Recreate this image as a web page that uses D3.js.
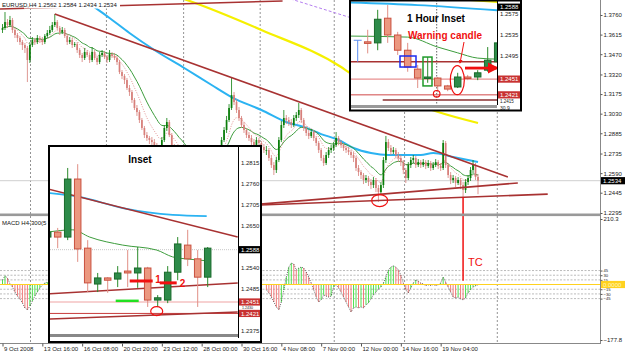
<!DOCTYPE html>
<html>
<head>
<meta charset="utf-8">
<script src="https://cdn.jsdelivr.net/npm/d3@7"></script>
<style>
  body { margin: 0; background: #fff; }
  svg text { font-family: "Liberation Sans", Arial, sans-serif; }
</style>
</head>
<body>
<div id="chart"></div>
<script>
// ---- main EURUSD H4 series (prices in pips, 1.3760 -> 13760) ----
const firstOpen = 13649;
const closePips = [13664,13708,13686,13723,13649,13612,13590,13560,13538,13516,
  13427,13538,13575,13560,13590,13575,13560,13605,13627,13649,
  13686,13708,13664,13634,13649,13605,13560,13575,13538,13545,
  13501,13464,13442,13486,13464,13427,13486,13442,13412,13464,
  13479,13449,13427,13471,13457,13442,13412,13338,13309,13279,
  13220,13190,13131,13072,13042,12983,12924,12872,12850,12835,
  12820,12798,12776,12761,12835,12924,12968,12872,12798,12761,
  12724,12687,12702,12650,12613,12628,12598,12650,12687,12628,
  12613,12650,12687,12672,12724,12761,12761,12776,12835,12909,
  12983,13072,13168,13116,13057,12998,12946,12909,12872,12850,
  12820,12798,12835,12813,12783,12761,12761,12702,12650,12613,
  12687,12835,12946,12998,12983,12968,12946,12998,13020,13057,
  12983,12924,12887,12865,12894,12850,12813,12761,12702,12665,
  12724,12761,12776,12798,12850,12820,12798,12776,12761,12746,
  12724,12702,12628,12598,12576,12539,12554,12524,12502,12539,
  12480,12450,12502,12687,12820,12776,12746,12761,12724,12702,
  12672,12613,12554,12650,12687,12702,12650,12672,12650,12672,
  12643,12665,12628,12650,12672,12643,12628,12813,12650,12576,
  12539,12554,12517,12539,12502,12465,12524,12554,12613,12650,
  12562,12534];
const highPips = [13693,13782,13730,13753,13738,13664,13627,13605,13575,13553,
  13531,13560,13597,13590,13612,13605,13597,13619,13649,13679,
  13708,13767,13723,13679,13671,13664,13619,13597,13590,13560,
  13560,13516,13479,13516,13501,13479,13523,13501,13457,13486,
  13501,13494,13464,13501,13486,13479,13457,13427,13353,13323,
  13294,13242,13205,13146,13094,13057,12998,12939,12894,12865,
  12857,12842,12813,12791,12857,12946,12998,12983,12887,12805,
  12776,12739,12724,12717,12672,12650,12643,12672,12709,12702,
  12650,12672,12709,12709,12746,12783,12783,12791,12857,12931,
  13013,13101,13294,13190,13138,13079,13013,12968,12924,12894,
  12872,12842,12857,12850,12828,12805,12791,12776,12724,12672,
  12709,12857,12976,13057,13020,13005,12990,13020,13042,13109,
  13072,12998,12939,12909,12916,12909,12865,12828,12776,12724,
  12746,12783,12798,12820,12894,12865,12835,12813,12791,12783,
  12761,12746,12717,12650,12613,12591,12576,12569,12546,12561,
  12554,12502,12524,12709,12865,12842,12798,12783,12776,12746,
  12724,12687,12628,12672,12709,12724,12717,12694,12687,12694,
  12687,12687,12680,12672,12694,12687,12665,12835,12828,12665,
  12598,12576,12569,12561,12554,12524,12546,12576,12635,12687,
  12665,12584];
const lowPips = [13627,13649,13664,13671,13627,13590,13560,13538,13501,13479,
  13264,13405,13523,13538,13545,13553,13538,13545,13590,13612,
  13634,13671,13649,13612,13619,13590,13538,13545,13516,13523,
  13479,13442,13412,13427,13449,13405,13412,13427,13390,13397,
  13449,13434,13405,13412,13442,13427,13390,13323,13286,13249,
  13205,13161,13109,13057,13013,12961,12909,12850,12828,12805,
  12791,12776,12746,12731,12746,12820,12902,12857,12776,12731,
  12702,12665,12665,12628,12583,12591,12569,12583,12635,12606,
  12583,12598,12635,12650,12657,12709,12731,12739,12761,12820,
  12887,12968,13057,13094,13035,12976,12924,12887,12850,12828,
  12798,12776,12783,12791,12761,12739,12724,12680,12628,12576,
  12591,12672,12820,12924,12953,12939,12924,12931,12976,12998,
  12961,12902,12865,12842,12850,12828,12791,12739,12680,12643,
  12650,12702,12739,12754,12783,12798,12776,12754,12739,12724,
  12702,12672,12606,12569,12546,12509,12517,12495,12472,12480,
  12450,12376,12428,12480,12665,12754,12724,12731,12702,12672,
  12643,12583,12517,12539,12628,12665,12628,12635,12628,12635,
  12620,12628,12606,12613,12635,12620,12606,12613,12628,12554,
  12509,12517,12487,12502,12472,12413,12443,12502,12532,12591,
  12539,12434];

// MACD histogram (visible parts only)
const macdLeftStart = 0;
const macdLeft = [15,28,21,2,-8,-24,-37,-46,-59,-75,-81,-69,-53,-37,-24,-11,-1,5,8];
const macdRightStart = 106;
const macdRight = [-17,-27,-40,-56,-72,-81,-56,-17,24,56,
  69,66,47,53,56,53,40,24,5,-17,
  -40,-56,-49,-33,-37,-40,-37,-8,-1,-11,
  -24,-40,-56,-72,-88,-75,-72,-75,-72,-75,
  -65,-59,-46,-33,-24,-14,-8,5,24,47,
  56,60,56,47,31,5,-17,-27,-11,5,
  15,11,5,2,-3,-1,-3,0,-3,-1,
  5,24,8,-8,-24,-40,-43,-40,-46,-49,
  -43,-27,-17,-8,-4,-1];
const macdLevels = [45, 30, 15, -15, -30, -45];

// long moving averages: [bar, price]
const blueMA = [[29,1.3930],[33,1.3871],[43,1.3738],[51,1.3627],[61,1.3501],[73,1.3368],[84,1.3242],
  [92,1.3153],[104,1.3057],[115,1.2961],[121,1.2931],[128,1.2879],[135,1.2835],[141,1.2776],
  [148,1.2739],[155,1.2724],[168,1.2724],[173,1.2739],[181,1.2709],[191,1.2672]];
const yellowMA = [[68,1.3908],[74,1.3871],[104,1.3649],[136,1.3375],[139,1.3338],[175,1.3042],[191,1.2961]];
const purpleMA = [[108,1.3923],[139,1.3745],[146,1.3700]];

// trend lines: [bar, price]
const trendTop = [[-1,1.3804],[112.5,1.3864]];
const trendDown = [[21,1.3767],[203,1.2561]];
const supportA = [[96,1.2349],[207,1.2517]];
const supportB = [[96,1.2349],[219,1.2435]];

const priceTicks = [1.3760,1.3615,1.3470,1.3320,1.3175,1.3030,1.2885,1.2735,1.2590,1.2445,1.2295];
const lastPrice = 1.2534;
const timeTicks = [0,16,32,48,64,80,96,112,128,144,160,176];
const timeLabels = ["9 Oct 2008","13 Oct 16:00","16 Oct 08:00","20 Oct 20:00","23 Oct 12:00","28 Oct 00:00",
  "30 Oct 16:00","4 Nov 08:00","7 Nov 00:00","12 Nov 00:00","14 Nov 16:00","19 Nov 04:00"];
const gridBars = [11.25, 41.75, 72.75, 103.5, 133.25, 161.5, 198.75];
const circleMain = [151.5, 1.2387];
const tcBar = 185;

// ---- inset A (H4 zoom) ----
const insetAOpen  = [1.2621,1.2634,1.2621,1.2773,1.2592,1.2498,1.2514,1.2511,1.2532,1.2527,1.2540,1.2456,1.2456,1.2529,1.2600,1.2564,1.2516];
const insetAHigh  = [1.2640,1.2645,1.2802,1.2812,1.2613,1.2527,1.2516,1.2545,1.2587,1.2595,1.2543,1.2469,1.2545,1.2621,1.2640,1.2587,1.2595];
const insetALow   = [1.2616,1.2592,1.2613,1.2556,1.2477,1.2477,1.2475,1.2490,1.2490,1.2488,1.2438,1.2438,1.2448,1.2508,1.2545,1.2438,1.2490];
const insetAClose = [1.2634,1.2621,1.2773,1.2590,1.2501,1.2514,1.2508,1.2527,1.2527,1.2540,1.2456,1.2462,1.2529,1.2603,1.2564,1.2516,1.2592];
const insetABlue  = [[0.2,1.2736],[3.2,1.2726],[7.5,1.2697],[12.5,1.2679],[15.9,1.2676]];
const insetAGreen = [[0,1.2634],[2.5,1.2640],[4.2,1.2621],[7.5,1.2600],[10.9,1.2587],[12.5,1.2569],[14.2,1.2563],[15.9,1.2559]];
const insetATrend = [[0,1.2747],[19,1.2621]];
const insetARiseA = [[0,1.2472],[19,1.2501]];
const insetARiseB = [[0,1.2406],[19,1.2425]];
const insetATicks = [1.2815,1.2760,1.2705,1.2650,1.2540,1.2485,1.2375];
const insetAHidden = 1.2430;

// ---- inset B (1 hour) ----
const insetBOpen  = [1.2522,1.2520,1.2567,1.2535,1.2506,1.2470,1.2453,1.2453,1.2438,1.2436,1.2455,1.2455,1.2468,1.2484];
const insetBHigh  = [1.2545,1.2583,1.2592,1.2541,1.2520,1.2478,1.2493,1.2455,1.2440,1.2463,1.2459,1.2468,1.2512,1.2539];
const insetBLow   = [1.2500,1.2506,1.2520,1.2497,1.2465,1.2434,1.2444,1.2426,1.2428,1.2434,1.2449,1.2449,1.2465,1.2482];
const insetBClose = [1.2519,1.2565,1.2535,1.2506,1.2474,1.2453,1.2455,1.2438,1.2432,1.2455,1.2453,1.2463,1.2487,1.2520];
const insetBMarker = [1.2525, 1.2484];
const insetBBlue  = [[-1,1.2597],[6,1.2592],[14,1.2582]];
const insetBYellow = [[11,1.2602],[14,1.2598]];
const insetBGreen = [[-1,1.2533],[5,1.2531],[8,1.2512],[10,1.2501],[12,1.2491],[14,1.2489]];
const insetBTicks = [1.2575,1.2535,1.2495];
const insetBHidden = 1.2415;

const brown = "#a83232";
const W = 625, H = 356;

const svg = d3.select("#chart").append("svg")
  .attr("width", W).attr("height", H)
  .style("display", "block");
svg.append("rect").attr("width", W).attr("height", H).attr("fill", "#fff");

const x = d3.scaleLinear().domain([0, 240]).range([2.5, 600]);
const y = d3.scaleLinear().domain([1.2295, 1.3760]).range([213, 15]);
const yM = d3.scaleLinear().domain([-177.8, 210.3]).range([340, 219]);

const defs = svg.append("defs");
function clip(id, x0, y0, w, h) {
  defs.append("clipPath").attr("id", id).append("rect")
    .attr("x", x0).attr("y", y0).attr("width", w).attr("height", h);
  return "url(#" + id + ")";
}

function ema(vals, n) {
  const a = 2 / (n + 1);
  let e = vals[0];
  return vals.map(v => (e = e + a * (v - e)));
}

function drawCandles(g, data, xs, ys, bw, st) {
  const sel = g.selectAll(null).data(data).join("g");
  sel.append("line")
    .attr("x1", d => xs(d.k)).attr("x2", d => xs(d.k))
    .attr("y1", d => ys(d.h)).attr("y2", d => ys(d.l))
    .attr("stroke", d => d.c >= d.o ? st.bullWick : st.bearWick)
    .attr("stroke-width", st.wick);
  sel.append("rect")
    .attr("x", d => xs(d.k) - bw / 2)
    .attr("y", d => ys(Math.max(d.o, d.c)))
    .attr("width", bw)
    .attr("height", d => Math.max(st.minH, Math.abs(ys(d.o) - ys(d.c))))
    .attr("fill", d => d.c >= d.o ? st.bullFill : st.bearFill)
    .attr("stroke", d => st.stroke ? (d.c >= d.o ? st.bullStroke : st.bearStroke) : "none")
    .attr("stroke-width", st.stroke || 0);
}

function pathLine(g, pts, xs, ys, color, width, dash, curve) {
  g.append("path")
    .datum(pts)
    .attr("d", d3.line().x(d => xs(d[0])).y(d => ys(d[1])).curve(curve || d3.curveLinear))
    .attr("fill", "none").attr("stroke", color).attr("stroke-width", width)
    .attr("stroke-dasharray", dash || null);
}

function labelBox(g, x0, w, yy, txt, bg, fg) {
  g.append("rect").attr("x", x0).attr("y", yy - 3.6).attr("width", w).attr("height", 7.2).attr("fill", bg);
  g.append("text").attr("x", x0 + 2).attr("y", yy).attr("dy", "0.35em")
    .attr("font-size", 6).attr("fill", fg).text(txt);
}

// ---------- main chart ----------
const bars = closePips.map((c, i) => {
  const o = (i ? closePips[i - 1] : firstOpen) / 1e4;
  const cc = c / 1e4;
  return { k: i, o: o, c: cc, h: Math.max(highPips[i] / 1e4, o, cc), l: Math.min(lowPips[i] / 1e4, o, cc) };
});

// vertical grid
svg.append("g").selectAll("line").data(gridBars).join("line")
  .attr("x1", d => x(d)).attr("x2", d => x(d))
  .attr("y1", 0).attr("y2", 343)
  .attr("stroke", "#777").attr("stroke-width", 0.8).attr("stroke-dasharray", "2,2");

// MACD panel
const macdG = svg.append("g").attr("clip-path", clip("cm", 0, 217, 600, 126));
macdG.selectAll("line.lvl").data(macdLevels).join("line").attr("class", "lvl")
  .attr("x1", 0).attr("x2", 600).attr("y1", d => yM(d)).attr("y2", d => yM(d))
  .attr("stroke", "#aaa").attr("stroke-width", 0.8).attr("stroke-dasharray", "2,1.5");

function macdSeries(vals, start) {
  const pts = vals.map((v, j) => ({ k: start + j, v: v, up: j === 0 ? v >= 0 : v >= vals[j - 1] }));
  macdG.append("g").selectAll("line").data(pts).join("line")
    .attr("x1", d => x(d.k)).attr("x2", d => x(d.k))
    .attr("y1", yM(0)).attr("y2", d => yM(d.v))
    .attr("stroke", d => d.up ? "#4fe04f" : "#f07a7a").attr("stroke-width", 1);
  macdG.append("path").datum(pts)
    .attr("d", d3.line().x(d => x(d.k)).y(d => yM(d.v)))
    .attr("fill", "none").attr("stroke", "#444").attr("stroke-width", 0.8)
    .attr("stroke-dasharray", "1,1.2");
}
macdSeries(macdLeft, macdLeftStart);
macdSeries(macdRight, macdRightStart);
const zeroY = Math.floor(yM(0)) + 0.5;
macdG.append("line").attr("x1", 0).attr("x2", 600).attr("y1", zeroY).attr("y2", zeroY)
  .attr("stroke", "#ffd21f").attr("stroke-width", 1);

// price panel
const mainG = svg.append("g").attr("clip-path", clip("cp", 0, 0, 600, 213));
mainG.append("line").attr("x1", 0).attr("x2", 600).attr("y1", y(lastPrice)).attr("y2", y(lastPrice))
  .attr("stroke", "#cfcfcf").attr("stroke-width", 1);

pathLine(mainG, yellowMA, x, y, "#f5f000", 2.2, null, d3.curveMonotoneX);
pathLine(mainG, purpleMA, x, y, "#b57ff0", 1, "3,2");
pathLine(mainG, blueMA, x, y, "#2bb3f2", 2, null, d3.curveMonotoneX);

const closes = bars.map(b => b.c);
const greenMA = ema(closes, 15);
const fastMA = ema(closes, 8);
mainG.append("path").datum(greenMA)
  .attr("d", d3.line().x((d, i) => x(i)).y(d => y(d)).curve(d3.curveMonotoneX))
  .attr("fill", "none").attr("stroke", "#3d9d3d").attr("stroke-width", 1);
mainG.append("path").datum(fastMA)
  .attr("d", d3.line().x((d, i) => x(i)).y(d => y(d)).curve(d3.curveMonotoneX))
  .attr("fill", "none").attr("stroke", "#e08a8a").attr("stroke-width", 0.9).attr("stroke-dasharray", "1,1.5");

drawCandles(mainG.append("g"), bars, x, y, 1.7, {
  wick: 0.8, minH: 0.8,
  bullWick: "#0a7d0a", bearWick: "#d77f7a",
  bullFill: "#0a7d0a", bearFill: "#d77f7a"
});

pathLine(mainG, trendTop, x, y, brown, 1.6);
pathLine(mainG, trendDown, x, y, brown, 1.6);
pathLine(mainG, supportA, x, y, brown, 1.6);
pathLine(mainG, supportB, x, y, brown, 1.6);

mainG.append("ellipse").attr("cx", x(circleMain[0])).attr("cy", y(circleMain[1]))
  .attr("rx", 8).attr("ry", 6).attr("fill", "none").attr("stroke", "#f01010").attr("stroke-width", 1.2);

// TC marker
svg.append("line").attr("x1", x(tcBar)).attr("x2", x(tcBar))
  .attr("y1", y(lowPips[tcBar] / 1e4)).attr("y2", yM(12))
  .attr("stroke", "#f01010").attr("stroke-width", 1.5);
svg.append("text").attr("x", x(tcBar) + 5).attr("y", 266)
  .attr("font-size", 11).attr("fill", "#f01010").text("TC");

// frame
svg.append("rect").attr("x", 0).attr("y", 213.5).attr("width", 601).attr("height", 2.6).attr("fill", "#999");
svg.append("line").attr("x1", 600.5).attr("x2", 600.5).attr("y1", 0).attr("y2", 343).attr("stroke", "#888");
svg.append("line").attr("x1", 0).attr("x2", 601).attr("y1", 343.5).attr("y2", 343.5).attr("stroke", "#888");

// price axis
svg.append("g").attr("transform", "translate(600.5,0)")
  .call(d3.axisRight(y).tickValues(priceTicks).tickSize(2).tickFormat(d3.format(".4f")))
  .call(g => g.select(".domain").remove())
  .call(g => g.selectAll("line").attr("stroke", "#555"))
  .call(g => g.selectAll("text").attr("x", 3).attr("font-size", 6).attr("fill", "#222"));
labelBox(svg, 601, 24, y(lastPrice), d3.format(".4f")(lastPrice), "#000", "#fff");

// MACD axis
const macdTickVals = [210.3, -177.8].concat(macdLevels);
svg.append("g").attr("transform", "translate(600.5,0)")
  .call(d3.axisRight(yM).tickValues(macdTickVals).tickSize(2)
    .tickFormat(d => (d === 210.3 || d === -177.8) ? d3.format(".1f")(d) : d3.format("d")(d)))
  .call(g => g.select(".domain").remove())
  .call(g => g.selectAll("line").attr("stroke", "#555"))
  .call(g => g.selectAll("text").attr("x", 3).attr("fill", "#222")
    .attr("font-size", d => (d === 210.3 || d === -177.8) ? 6 : 4.2));
labelBox(svg, 601, 24, zeroY, "0.0000", "#ffd21f", "#fff8c0");

// time axis
svg.append("g").attr("transform", "translate(0,343.5)")
  .call(d3.axisBottom(x).tickValues(timeTicks).tickSize(3).tickFormat((d, k) => timeLabels[k]))
  .call(g => g.select(".domain").remove())
  .call(g => g.selectAll("line").attr("stroke", "#555"))
  .call(g => g.selectAll("text").attr("text-anchor", "start").attr("x", 1).attr("y", 3)
    .attr("font-size", 6).attr("fill", "#222"));

// titles
svg.append("rect").attr("x", 24).attr("y", 0).attr("width", 96).attr("height", 8.5).attr("fill", "#fff");
svg.append("text").attr("x", 2).attr("y", 7).attr("font-size", 6).attr("fill", "#111")
  .text("EURUSD,H4  1.2562 1.2584 1.2434 1.2534");
svg.append("text").attr("x", 2).attr("y", 225).attr("font-size", 6).attr("fill", "#111")
  .text("MACD H4-300(5");

// ---------- inset A ----------
const gA = svg.append("g");
const xA = d3.scaleLinear().domain([0, 19]).range([47.7, 237.7]);
const yA = d3.scaleLinear().domain([1.2375, 1.2815]).range([331, 163]);
gA.append("rect").attr("x", 48).attr("y", 145).attr("width", 214).attr("height", 198).attr("fill", "#fff");
const inA = gA.append("g").attr("clip-path", clip("ca", 50, 147, 188, 187));
inA.append("line").attr("x1", 50).attr("x2", 238).attr("y1", yA(1.2588)).attr("y2", yA(1.2588))
  .attr("stroke", "#c8c8c8").attr("stroke-dasharray", "1,1");
inA.append("line").attr("x1", 50).attr("x2", 238).attr("y1", yA(1.2451)).attr("y2", yA(1.2451))
  .attr("stroke", "#f0a4a4").attr("stroke-width", 1.2);
inA.append("line").attr("x1", 50).attr("x2", 238).attr("y1", yA(1.2421)).attr("y2", yA(1.2421))
  .attr("stroke", "#c83c3c").attr("stroke-width", 1);
pathLine(inA, insetABlue, xA, yA, "#2bb3f2", 1.8, null, d3.curveMonotoneX);
pathLine(inA, insetATrend, xA, yA, brown, 1.5);
pathLine(inA, insetARiseA, xA, yA, brown, 1.5);
pathLine(inA, insetARiseB, xA, yA, brown, 1.5);
pathLine(inA, insetAGreen, xA, yA, "#3d9d3d", 1, null, d3.curveMonotoneX);
const candA = insetAOpen.map((o, k) => ({ k: k, o: o, h: insetAHigh[k], l: insetALow[k], c: insetAClose[k] }));
const candleStyle = {
  wick: 1, minH: 1.5, stroke: 1,
  bullWick: "#2a8a2a", bearWick: "#e08f86",
  bullFill: "#2e8b4a", bearFill: "#eb9880",
  bullStroke: "#1a6a2a", bearStroke: "#c9503f"
};
drawCandles(inA.append("g"), candA, xA, yA, 6.5, candleStyle);
// annotations
inA.append("line").attr("x1", xA(8.2)).attr("x2", xA(10.5)).attr("y1", yA(1.2506)).attr("y2", yA(1.2506))
  .attr("stroke", "#f01010").attr("stroke-width", 3);
inA.append("line").attr("x1", xA(11.2)).attr("x2", xA(12.9)).attr("y1", yA(1.2501)).attr("y2", yA(1.2501))
  .attr("stroke", "#f01010").attr("stroke-width", 3);
inA.append("line").attr("x1", xA(6.8)).attr("x2", xA(9.1)).attr("y1", yA(1.2454)).attr("y2", yA(1.2454))
  .attr("stroke", "#22e022").attr("stroke-width", 2.5);
inA.append("ellipse").attr("cx", xA(10.9)).attr("cy", yA(1.2427)).attr("rx", 6).attr("ry", 4.5)
  .attr("fill", "none").attr("stroke", "#f01010").attr("stroke-width", 1.2);
inA.append("text").attr("x", xA(10.75)).attr("y", yA(1.2506) + 2).attr("font-size", 10).attr("font-weight", "bold")
  .attr("fill", "#f01010").text("1");
inA.append("text").attr("x", xA(13.2)).attr("y", yA(1.2501) + 4).attr("font-size", 10).attr("font-weight", "bold")
  .attr("fill", "#f01010").text("2");
inA.append("text").attr("x", 140).attr("y", 163).attr("text-anchor", "middle")
  .attr("font-size", 10).attr("font-weight", "bold").attr("fill", "#000").text("Inset");
gA.append("rect").attr("x", 50).attr("y", 334).attr("width", 188).attr("height", 3).attr("fill", "#888");
gA.append("line").attr("x1", 238.5).attr("x2", 238.5).attr("y1", 147).attr("y2", 338).attr("stroke", "#000");
gA.append("g").selectAll("text").data(insetATicks).join("text")
  .attr("x", 241).attr("y", d => yA(d)).attr("dy", "0.35em").attr("font-size", 6).attr("fill", "#222")
  .text(d => d3.format(".4f")(d));
labelBox(gA, 239, 21, yA(1.2588), "1.2588", "#000", "#fff");
labelBox(gA, 239, 21, yA(1.2451), "1.2451", "#c83232", "#fff");
labelBox(gA, 239, 21, yA(1.2421), "1.2421", "#c83232", "#fff");
// level squeezed between the two red boxes
gA.append("text").attr("x", 242).attr("y", (yA(1.2451) + yA(1.2421)) / 2).attr("dy", "0.35em")
  .attr("font-size", 3.6).attr("fill", "#222").text(d3.format(".4f")(insetAHidden));
gA.append("rect").attr("x", 49).attr("y", 146).attr("width", 212).attr("height", 196)
  .attr("fill", "none").attr("stroke", "#000").attr("stroke-width", 2);

// ---------- inset B ----------
const gB = svg.append("g");
const xB = d3.scaleLinear().domain([0, 14]).range([357.7, 497.7]);
const yB = d3.scaleLinear().domain([1.2495, 1.2575]).range([56, 14]);
gB.append("rect").attr("x", 349).attr("y", 0).attr("width", 173).attr("height", 111).attr("fill", "#fff");
const inB = gB.append("g").attr("clip-path", clip("cb", 350, 1, 147, 104));
inB.append("line").attr("x1", xB(7.9)).attr("x2", xB(7.9)).attr("y1", 0).attr("y2", 106)
  .attr("stroke", "#666").attr("stroke-dasharray", "1.5,1.5");
pathLine(inB, insetBYellow, xB, yB, "#f5f000", 2);
pathLine(inB, insetBBlue, xB, yB, "#2bb3f2", 1.8, null, d3.curveMonotoneX);
pathLine(inB, insetBGreen, xB, yB, "#3d9d3d", 1, null, d3.curveMonotoneX);
inB.append("line").attr("x1", 350).attr("x2", 497).attr("y1", yB(1.2484)).attr("y2", yB(1.2484))
  .attr("stroke", brown).attr("stroke-width", 1.4);
inB.append("line").attr("x1", 350).attr("x2", 497).attr("y1", yB(1.2451)).attr("y2", yB(1.2451))
  .attr("stroke", "#e89090").attr("stroke-width", 1.2);
inB.append("line").attr("x1", 350).attr("x2", 497).attr("y1", yB(1.2421)).attr("y2", yB(1.2421))
  .attr("stroke", "#d04848").attr("stroke-width", 1);
inB.append("line").attr("x1", xB(2.5)).attr("x2", 497).attr("y1", yB(1.2411)).attr("y2", yB(1.2411))
  .attr("stroke", "#8a3030").attr("stroke-width", 1.5);
inB.append("line").attr("x1", xB(0)).attr("x2", xB(0)).attr("y1", yB(insetBMarker[0])).attr("y2", yB(insetBMarker[1]))
  .attr("stroke", "#5b8def").attr("stroke-width", 1);
inB.append("line").attr("x1", xB(-0.4)).attr("x2", xB(0.4)).attr("y1", yB(insetBMarker[0])).attr("y2", yB(insetBMarker[0]))
  .attr("stroke", "#5b8def").attr("stroke-width", 1);
const candB = insetBOpen.map((o, j) => ({ k: j + 1, o: o, h: insetBHigh[j], l: insetBLow[j], c: insetBClose[j] }));
drawCandles(inB.append("g"), candB, xB, yB, 6.5, candleStyle);
// annotations
inB.append("rect").attr("x", xB(4.23)).attr("y", yB(1.2495)).attr("width", xB(5.83) - xB(4.23))
  .attr("height", yB(1.2474) - yB(1.2495)).attr("fill", "none").attr("stroke", "#1a2cf0").attr("stroke-width", 1.5);
inB.append("rect").attr("x", xB(6.53)).attr("y", yB(1.2493)).attr("width", xB(7.43) - xB(6.53))
  .attr("height", yB(1.2438) - yB(1.2493)).attr("fill", "none").attr("stroke", "#1f9a2a").attr("stroke-width", 1.5);
inB.append("circle").attr("cx", xB(7.9)).attr("cy", yB(1.2423)).attr("r", 3.3)
  .attr("fill", "none").attr("stroke", "#f01010").attr("stroke-width", 1.2);
inB.append("ellipse").attr("cx", xB(9.96)).attr("cy", yB(1.2449)).attr("rx", 7).attr("ry", 14.5)
  .attr("fill", "none").attr("stroke", "#f01010").attr("stroke-width", 1.2);
defs.append("marker").attr("id", "arr").attr("viewBox", "0 0 10 10").attr("refX", 8).attr("refY", 5)
  .attr("markerWidth", 4).attr("markerHeight", 4).attr("orient", "auto")
  .append("path").attr("d", "M0,0L10,5L0,10z").attr("fill", "#f01010");
inB.append("line").attr("x1", xB(10.73)).attr("x2", xB(13.9)).attr("y1", yB(1.2472)).attr("y2", yB(1.2472))
  .attr("stroke", "#f01010").attr("stroke-width", 2.8).attr("marker-end", "url(#arr)");
inB.append("line").attr("x1", 464).attr("x2", 460).attr("y1", 42).attr("y2", 63)
  .attr("stroke", "#f01010").attr("stroke-width", 1).attr("marker-end", "url(#arr)");
inB.append("text").attr("x", 436).attr("y", 22).attr("text-anchor", "middle")
  .attr("font-size", 10).attr("font-weight", "bold").attr("fill", "#000").text("1 Hour Inset");
inB.append("text").attr("x", 445).attr("y", 39).attr("text-anchor", "middle")
  .attr("font-size", 10).attr("font-weight", "bold").attr("fill", "#f01010").text("Warning candle");
gB.append("rect").attr("x", 350).attr("y", 105).attr("width", 147).attr("height", 3).attr("fill", "#999");
gB.append("line").attr("x1", 497.5).attr("x2", 497.5).attr("y1", 0).attr("y2", 105).attr("stroke", "#000");
gB.append("g").selectAll("text").data(insetBTicks).join("text")
  .attr("x", 500).attr("y", d => yB(d)).attr("dy", "0.35em").attr("font-size", 6).attr("fill", "#222")
  .text(d => d3.format(".4f")(d));
labelBox(gB, 498, 22, yB(1.2588), "1.2588", "#000", "#fff");
labelBox(gB, 498, 22, yB(1.2451), "1.2451", "#c83232", "#fff");
labelBox(gB, 498, 22, yB(1.2421), "1.2421", "#c83232", "#fff");
// level partly hidden under the red box in the original, placed just below it
gB.append("text").attr("x", 500).attr("y", yB(1.2421) + 6.2).attr("dy", "0.35em")
  .attr("font-size", 4.5).attr("fill", "#222").text(d3.format(".4f")(insetBHidden));
gB.append("text").attr("x", 500).attr("y", 107.8).attr("dy", "0.35em").attr("font-size", 5).attr("fill", "#222").text("30.9");
gB.append("rect").attr("x", 350).attr("y", 0.5).attr("width", 171).attr("height", 110)
  .attr("fill", "none").attr("stroke", "#000").attr("stroke-width", 2);
</script>
</body>
</html>
